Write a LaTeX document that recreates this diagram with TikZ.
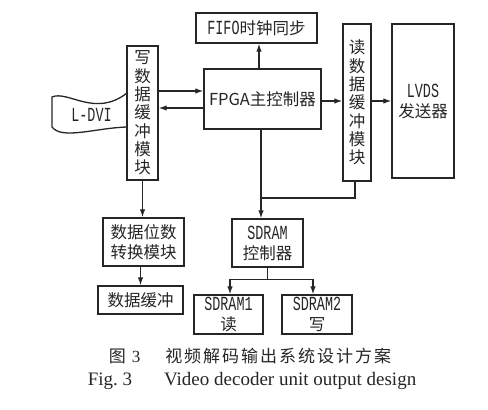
\documentclass[tikz,border=0pt]{standalone}
\usepackage{fontspec}
\setmainfont{Liberation Serif}
\newfontfamily\cjk{Noto Sans CJK SC}
\newfontfamily\monoc[FakeStretch=0.67]{Liberation Mono}
\usetikzlibrary{arrows.meta,calc}
\definecolor{ink}{HTML}{262626}
\newcommand\mtxt[1]{{\fontsize{20}{20}\monoc #1}}
\begin{document}
\begin{tikzpicture}[x=1pt,y=-1pt,
  box/.style={draw=ink,line width=1.4pt,inner sep=0pt,text=ink,align=center,font=\fontsize{16.5}{20}\cjk},
  vbox/.style={box,font=\fontsize{16.5}{18.3}\cjk},
  arr/.style={draw=ink,line width=1.2pt,-{Latex[length=8pt,width=5.5pt]}},
  ln/.style={draw=ink,line width=1.2pt}]
\useasboundingbox[fill=white] (0,0) rectangle (488,410);

\node[box,minimum width=121pt,minimum height=30pt] (fifo) at (256.5,28) {\mtxt{FIFO}时钟同步};
\node[box,minimum width=117pt,minimum height=60pt] (fpga) at (262.5,99) {FPGA主控制器};
\node[vbox,minimum width=31pt,minimum height=134pt] (wbuf) at (142.5,113) {写\\数\\据\\缓\\冲\\模\\块};
\node[vbox,minimum width=28pt,minimum height=157pt] (rbuf) at (357,102.5) {读\\数\\据\\缓\\冲\\模\\块};
\node[box,minimum width=62pt,minimum height=154pt] (lvds) at (423,101) {\mtxt{LVDS}\\发送器};
\node[box,minimum width=81pt,minimum height=48pt] (conv) at (143.5,242) {数据位数\\转换模块};
\node[box,minimum width=85pt,minimum height=28pt] (dbuf) at (140.5,300) {数据缓冲};
\node[box,minimum width=71pt,minimum height=48pt] (sctl) at (267.5,243) {\mtxt{SDRAM}\\控制器};
\node[box,minimum width=69pt,minimum height=39pt] (s1) at (228.5,314.5) {\mtxt{SDRAM1}\\读};
\node[box,minimum width=70pt,minimum height=39pt] (s2) at (317,314.5) {\mtxt{SDRAM2}\\写};

% L-DVI wavy shape
\draw[ink,line width=1.3pt] (127,93) .. controls (95,118) and (68,90) .. (52,97)
  -- (52,127) .. controls (62,140) and (95,128) .. (127,127);
\node[text=ink,inner sep=0pt] (ldvi) at (91.5,115) {\mtxt{L-DVI}};

% connectors
\coordinate (a1) at ([yshift=8pt]fpga.west);
\draw[arr] (wbuf.east |- a1) -- (a1);
\coordinate (a2) at ([yshift=-9pt]fpga.west);
\draw[arr] (a2) -- (wbuf.east |- a2);
\coordinate (a3) at ([xshift=-3.5pt]fpga.north);
\draw[arr] (a3) -- (a3 |- fifo.south);
\coordinate (a4) at ([yshift=-2pt]fpga.east);
\draw[arr] (a4) -- (a4 -| rbuf.west);
\draw[arr] (rbuf.east |- a4) -- (lvds.west |- a4);
\coordinate (j) at ([xshift=-1.5pt]fpga.south);
\coordinate (jn) at (261,198);
\draw[arr] (j) -- (j |- sctl.north);
\draw[ln] ([xshift=-2pt]rbuf.south) |- (jn);
\coordinate (sb) at ([yshift=-12pt]sctl.south);
\draw[ln] (sctl.south) -- (sb);
\draw[arr] (sb) -| ([xshift=1.5pt]s1.north);
\draw[arr] (sb) -| ([xshift=-4pt]s2.north);
\draw[arr] (wbuf.south) -- (wbuf.south |- conv.north);
\draw[arr] (dbuf.north |- conv.south) -- (dbuf.north);

% caption
\node[anchor=base,text=ink,inner sep=0pt,font=\fontsize{17}{17}\selectfont] (cap1) at (250,362)
  {{\cjk 图}\hspace{6pt}3\hspace{25pt}{\cjk 视\hspace{2pt}频\hspace{2pt}解\hspace{2pt}码\hspace{2pt}输\hspace{2pt}出\hspace{2pt}系\hspace{2pt}统\hspace{2pt}设\hspace{2pt}计\hspace{2pt}方\hspace{2pt}案}};
\node[anchor=base,text=ink,inner sep=0pt,font=\fontsize{19}{19}\selectfont] (cap2) at (252,385)
  {Fig.\ 3\hspace{32pt}Video decoder unit output design};
\end{tikzpicture}
\end{document}
